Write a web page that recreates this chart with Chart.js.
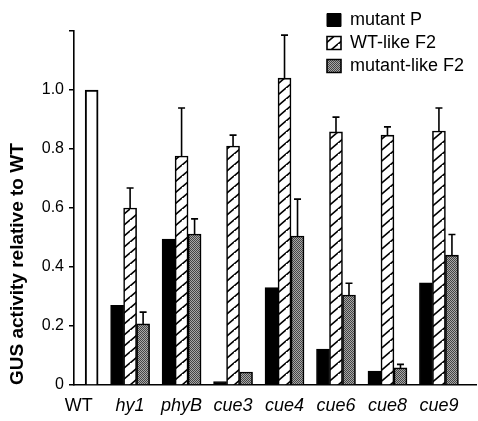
<!DOCTYPE html>
<html lang="en">
<head>
<meta charset="UTF-8">
<title>GUS activity relative to WT</title>
<script src="https://cdn.jsdelivr.net/npm/chart.js"></script>
<style>
  body { margin: 0; background: #fff; }
  .chart-box { position: relative; width: 478px; height: 421px; }
</style>
</head>
<body>
<div class="chart-box"><canvas id="gusChart"></canvas></div>
<script>
// data
const categories = ['WT', 'hy1', 'phyB', 'cue3', 'cue4', 'cue6', 'cue8', 'cue9'];
const wtValues = [1.0, null, null, null, null, null, null, null];
const mutantP = [null, 0.27, 0.495, 0.012, 0.33, 0.122, 0.047, 0.346];
const wtLikeF2 = [null, 0.60, 0.776, 0.81, 1.04, 0.858, 0.847, 0.861];
const wtLikeErr = [null, 0.068, 0.163, 0.037, 0.146, 0.05, 0.028, 0.078];
const mutantLikeF2 = [null, 0.207, 0.512, 0.044, 0.505, 0.305, 0.058, 0.44];
const mutantLikeErr = [null, 0.04, 0.051, 0, 0.125, 0.04, 0.012, 0.07];

const FONT = "'Liberation Sans', Arial, Helvetica, sans-serif";

// fill patterns
function hatchPattern() {
    const c = document.createElement('canvas');
    c.width = 13; c.height = 11;
    const g = c.getContext('2d');
    g.fillStyle = '#fff';
    g.fillRect(0, 0, 13, 11);
    g.strokeStyle = '#000';
    g.lineWidth = 1.7;
    g.beginPath();
    g.moveTo(-13, 22); g.lineTo(13, 0);
    g.moveTo(0, 22); g.lineTo(26, 0);
    g.stroke();
    return g.createPattern(c, 'repeat');
}

function stipplePattern() {
    const c = document.createElement('canvas');
    c.width = 2; c.height = 2;
    const g = c.getContext('2d');
    g.fillStyle = '#a8a8a8';
    g.fillRect(0, 0, 2, 2);
    g.fillStyle = '#444';
    g.fillRect(0, 0, 1, 1);
    g.fillRect(1, 1, 1, 1);
    return g.createPattern(c, 'repeat');
}

const points = arr => arr.map((v, i) => ({ x: i, y: v }));

// error bars (upper half only)
const errorBars = {
    id: 'errorBars',
    afterDatasetsDraw(chart) {
        const ctx = chart.ctx;
        const yScale = chart.scales.y;
        chart.data.datasets.forEach((ds, di) => {
            if (!ds.errors) return;
            const meta = chart.getDatasetMeta(di);
            meta.data.forEach((bar, i) => {
                const v = ds.data[i].y;
                const e = ds.errors[i];
                if (v == null || !e) return;
                const top = yScale.getPixelForValue(v + e);
                ctx.save();
                ctx.strokeStyle = '#000';
                ctx.lineWidth = 1.6;
                ctx.beginPath();
                ctx.moveTo(bar.x, bar.y);
                ctx.lineTo(bar.x, top);
                ctx.moveTo(bar.x - 3.5, top);
                ctx.lineTo(bar.x + 3.5, top);
                ctx.stroke();
                ctx.restore();
            });
        });
    }
};

// move the legend to the top right corner
const legendCorner = {
    id: 'legendCorner',
    afterLayout(chart) {
        if (!chart.legend) return;
        chart.legend.left = 322;
        chart.legend.top = 6;
    }
};

new Chart(document.getElementById('gusChart'), {
    type: 'bar',
    data: {
        datasets: [
            {
                label: 'mutant P',
                data: points(mutantP),
                backgroundColor: '#000',
                borderColor: '#000',
                borderWidth: 1,
                stack: 'p'
            },
            {
                label: 'WT-like F2',
                data: points(wtLikeF2),
                errors: wtLikeErr,
                backgroundColor: hatchPattern(),
                borderColor: '#000',
                borderWidth: 1.6,
                stack: 'w'
            },
            {
                label: 'mutant-like F2',
                data: points(mutantLikeF2),
                errors: mutantLikeErr,
                backgroundColor: stipplePattern(),
                borderColor: '#000',
                borderWidth: 1.6,
                stack: 'm'
            },
            {
                label: 'WT',
                data: points(wtValues),
                backgroundColor: '#fff',
                borderColor: '#000',
                borderWidth: 2,
                stack: 'm'
            }
        ]
    },
    options: {
        responsive: true,
        maintainAspectRatio: false,
        animation: false,
        barThickness: 13,
        layout: { padding: { top: 31, right: 2 } },
        plugins: {
            legend: {
                position: 'chartArea',
                align: 'start',
                labels: {
                    color: '#000',
                    boxWidth: 14,
                    boxHeight: 13,
                    padding: 5,
                    font: { family: FONT, size: 18 },
                    filter: item => item.text !== 'WT'
                }
            },
            tooltip: { enabled: false }
        },
        scales: {
            x: {
                type: 'linear',
                offset: false,
                min: -0.09,
                max: 7.72,
                afterFit: s => { s.height = 36; },
                grid: { display: true, drawOnChartArea: false, drawTicks: false },
                border: { color: '#000', width: 1.6 },
                ticks: {
                    stepSize: 1,
                    includeBounds: false,
                    autoSkip: false,
                    maxRotation: 0,
                    padding: 10,
                    color: '#000',
                    font: ctx => ({
                        family: FONT,
                        size: 18,
                        style: ctx.tick && ctx.tick.value === 0 ? 'normal' : 'italic'
                    }),
                    callback: v => Number.isInteger(v) ? categories[v] : ''
                }
            },
            y: {
                stacked: false,
                min: 0,
                max: 1.2,
                afterFit: s => { s.width = 74; },
                grid: {
                    drawOnChartArea: false,
                    drawTicks: true,
                    tickLength: 5,
                    color: '#000',
                    lineWidth: 1.5
                },
                border: { color: '#000', width: 1.6 },
                ticks: {
                    stepSize: 0.2,
                    padding: 5,
                    color: '#000',
                    font: { family: FONT, size: 16 },
                    callback: v => {
                        const r = Math.round(v * 10) / 10;
                        if (r === 0) return '0';
                        if (r > 1.1) return '';
                        return r.toFixed(1);
                    }
                },
                title: {
                    display: true,
                    text: 'GUS activity relative to WT',
                    align: 'start',
                    color: '#000',
                    font: { family: FONT, size: 19, weight: 'bold' },
                    padding: { top: 6, bottom: 0 }
                }
            }
        }
    },
    plugins: [errorBars, legendCorner]
});
</script>
</body>
</html>
